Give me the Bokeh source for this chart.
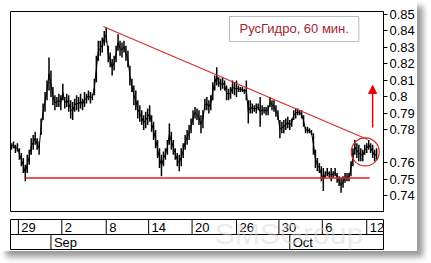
from bokeh.plotting import figure
from bokeh.models import Range1d, FixedTicker, Label, Arrow, NormalHead
from bokeh.layouts import column
from bokeh.embed import file_html
from bokeh.resources import INLINE
from bokeh.core.properties import value

title_text = "РусГидро, 60 мин."

high = [
    0.772, 0.773, 0.771, 0.772, 0.769, 0.766, 0.763, 0.759, 0.765, 0.768,
    0.775, 0.777, 0.779, 0.775, 0.773, 0.787, 0.796, 0.803, 0.810, 0.824,
    0.816, 0.806, 0.801, 0.800, 0.802, 0.801, 0.808, 0.800, 0.802, 0.801,
    0.798, 0.797, 0.799, 0.801, 0.800, 0.802, 0.799, 0.803, 0.802, 0.804,
    0.803, 0.802, 0.811, 0.825, 0.834, 0.834, 0.836, 0.840, 0.842, 0.831,
    0.827, 0.823, 0.825, 0.831, 0.838, 0.834, 0.833, 0.834, 0.831, 0.828,
    0.819, 0.811, 0.807, 0.804, 0.798, 0.795, 0.792, 0.789, 0.791, 0.793,
    0.795, 0.789, 0.785, 0.780, 0.774, 0.769, 0.765, 0.767, 0.769, 0.774,
    0.784, 0.779, 0.774, 0.769, 0.766, 0.765, 0.769, 0.772, 0.777, 0.780,
    0.783, 0.787, 0.792, 0.794, 0.793, 0.792, 0.789, 0.792, 0.799, 0.800,
    0.798, 0.801, 0.809, 0.813, 0.818, 0.812, 0.811, 0.812, 0.810, 0.807,
    0.805, 0.806, 0.810, 0.809, 0.810, 0.807, 0.806, 0.806, 0.805, 0.810,
    0.798, 0.798, 0.796, 0.795, 0.796, 0.796, 0.800, 0.795, 0.794, 0.794,
    0.795, 0.800, 0.798, 0.798, 0.795, 0.792, 0.786, 0.785, 0.786, 0.787,
    0.788, 0.786, 0.787, 0.792, 0.793, 0.793, 0.792, 0.792, 0.789, 0.782,
    0.782, 0.781, 0.780, 0.778, 0.768, 0.763, 0.760, 0.758, 0.757, 0.755,
    0.757, 0.755, 0.757, 0.755, 0.757, 0.754, 0.752, 0.751, 0.752, 0.754,
    0.754, 0.754, 0.761, 0.769, 0.774, 0.772, 0.771, 0.769, 0.768, 0.771,
    0.772, 0.774, 0.772, 0.771, 0.768, 0.769,
]

low = [
    0.768, 0.769, 0.766, 0.767, 0.762, 0.758, 0.754, 0.749, 0.754, 0.759,
    0.765, 0.768, 0.771, 0.768, 0.765, 0.777, 0.786, 0.791, 0.798, 0.804,
    0.800, 0.795, 0.792, 0.794, 0.794, 0.792, 0.798, 0.793, 0.794, 0.791,
    0.787, 0.786, 0.791, 0.792, 0.791, 0.793, 0.792, 0.794, 0.796, 0.798,
    0.796, 0.798, 0.801, 0.809, 0.822, 0.825, 0.827, 0.831, 0.833, 0.821,
    0.818, 0.813, 0.816, 0.821, 0.828, 0.825, 0.824, 0.827, 0.822, 0.818,
    0.807, 0.803, 0.795, 0.792, 0.787, 0.785, 0.783, 0.780, 0.781, 0.783,
    0.785, 0.779, 0.774, 0.769, 0.763, 0.757, 0.752, 0.758, 0.762, 0.765,
    0.771, 0.768, 0.765, 0.762, 0.758, 0.755, 0.758, 0.763, 0.768, 0.771,
    0.774, 0.778, 0.783, 0.787, 0.786, 0.783, 0.778, 0.781, 0.792, 0.792,
    0.790, 0.792, 0.798, 0.804, 0.807, 0.806, 0.804, 0.805, 0.804, 0.798,
    0.798, 0.799, 0.802, 0.801, 0.800, 0.803, 0.803, 0.803, 0.802, 0.798,
    0.784, 0.790, 0.790, 0.791, 0.790, 0.792, 0.782, 0.789, 0.790, 0.789,
    0.789, 0.794, 0.792, 0.791, 0.788, 0.786, 0.775, 0.778, 0.778, 0.780,
    0.781, 0.780, 0.782, 0.786, 0.787, 0.789, 0.789, 0.787, 0.782, 0.778,
    0.778, 0.778, 0.777, 0.765, 0.757, 0.755, 0.754, 0.749, 0.743, 0.751,
    0.752, 0.751, 0.749, 0.751, 0.752, 0.748, 0.746, 0.742, 0.745, 0.748,
    0.749, 0.749, 0.752, 0.758, 0.765, 0.763, 0.761, 0.761, 0.761, 0.765,
    0.766, 0.768, 0.766, 0.763, 0.761, 0.762,
]

price_ticks = [0.74, 0.75, 0.76, 0.78, 0.79, 0.80, 0.81, 0.82, 0.83, 0.84, 0.85]
last_price = 0.769
last_price_text = "0.76"

date_labels = ["29", "2", "8", "14", "20", "26", "30", "6", "12"]
date_pos = [4, 26, 48.5, 70, 92, 114.5, 136, 158, 180.5]
month_labels = ["Sep", "Oct"]
month_pos = [20.5, 141.5]

resist_x = [47, 181]
resist_y = [0.8427, 0.7742]
support_x = [7.5, 182]
support_y = [0.7509, 0.7509]
circle_x = [179.75]
circle_y = [0.7667]
arrow_x = 183.5
arrow_from = 0.7815
arrow_to = 0.807

FONT = "'Liberation Sans Narrow', 'Liberation Sans', Arial, sans-serif"
RED = "#d42a2a"

x = [i + 0.5 for i in range(len(high))]
mid = [(h + l) / 2 for h, l in zip(high, low)]

xr = Range1d(0, 189)

p = figure(width=417, height=212, x_range=xr, y_range=Range1d(0.73, 0.8518),
           output_backend="svg", toolbar_location=None,
           y_axis_location="right", x_axis_location=None,
           min_border_left=10, min_border_right=29, min_border_top=11,
           min_border_bottom=0, background_fill_color="white",
           border_fill_color="white")
p.outline_line_color = "black"
p.outline_line_alpha = 1
p.grid.visible = False

ax = p.yaxis[0]
ax.ticker = FixedTicker(ticks=price_ticks)
ax.formatter.use_scientific = False
ax.major_label_text_font = FONT
ax.major_label_text_font_size = "13px"
ax.major_label_text_color = "black"
ax.major_tick_in = 0
ax.major_tick_out = 4
ax.minor_tick_in = 0
ax.minor_tick_out = 0
ax.major_label_standoff = 2
ax.axis_line_color = "black"
ax.major_tick_line_color = "black"

# price bars
p.segment(x0=x, y0=low, x1=x, y1=high, line_color="black", line_width=1.5)
p.line(x, mid, line_color="black", line_width=1)

# support / resistance
p.line(support_x, support_y, line_color="#e02020", line_width=1.3)
p.line(resist_x, resist_y, line_color=RED, line_width=1.1)

# circle around latest bars
p.scatter(circle_x, circle_y, marker="circle", size=28, fill_alpha=0,
          line_color=RED, line_width=1.2)

# arrow
p.add_layout(Arrow(x_start=arrow_x, y_start=arrow_from, x_end=arrow_x, y_end=arrow_to,
                   line_color="#e80000", line_width=1.5,
                   end=NormalHead(size=8, fill_color="#e80000", line_color="#e80000")))

# title box
p.quad(left=[111], right=[176.5], bottom=[0.8336], top=[0.8488],
       fill_color="white", line_color="#b8b8b8", line_width=1)
p.text(x=[143.75], y=[0.8412], text=[title_text], text_align="center",
       text_baseline="middle", text_font=value("Liberation Sans"),
       text_font_size="13px", text_color="#a3232f")

# last price tag on axis
p.add_layout(Label(x=191.6, y=last_price, text=last_price_text,
                   text_baseline="middle", text_align="left",
                   text_font=FONT, text_font_size="13px",
                   border_line_color="black", background_fill_color="white",
                   padding=0))

# date band
p2 = figure(width=417, height=39, x_range=xr, y_range=Range1d(0, 2),
            output_backend="svg", toolbar_location=None,
            x_axis_location=None, y_axis_location=None,
            min_border_left=10, min_border_right=29, min_border_top=7,
            min_border_bottom=2, background_fill_color="white",
            border_fill_color="white")
p2.outline_line_color = "black"
p2.outline_line_alpha = 1
p2.grid.visible = False

p2.add_layout(Label(x=103.5, y=-0.05, text="SMSGroup", text_baseline="bottom",
                    text_font="Liberation Sans", text_font_size="30px",
                    text_color="#d8d8d8", text_alpha=0.5))

p2.segment(x0=[0], y0=[1], x1=[189], y1=[1], line_color="black", line_width=1)
p2.segment(x0=date_pos, y0=[1] * len(date_pos), x1=date_pos, y1=[2] * len(date_pos),
           line_color="black", line_width=1)
p2.segment(x0=month_pos, y0=[0] * len(month_pos), x1=month_pos, y1=[1] * len(month_pos),
           line_color="black", line_width=1)
p2.text(x=[d + 1.5 for d in date_pos], y=[1.5] * len(date_pos), text=date_labels,
        text_baseline="middle", text_align="left", text_font=value(FONT),
        text_font_size="13px", text_color="black")
p2.text(x=[m + 1.5 for m in month_pos], y=[0.5] * len(month_pos), text=month_labels,
        text_baseline="middle", text_align="left", text_font=value(FONT),
        text_font_size="13px", text_color="black")

layout = column(p, p2, spacing=0,
                styles={"box-shadow": "6px 6px 6px #9a9a9a", "background-color": "white"})

open("out.html", "w").write(file_html(layout, INLINE))
